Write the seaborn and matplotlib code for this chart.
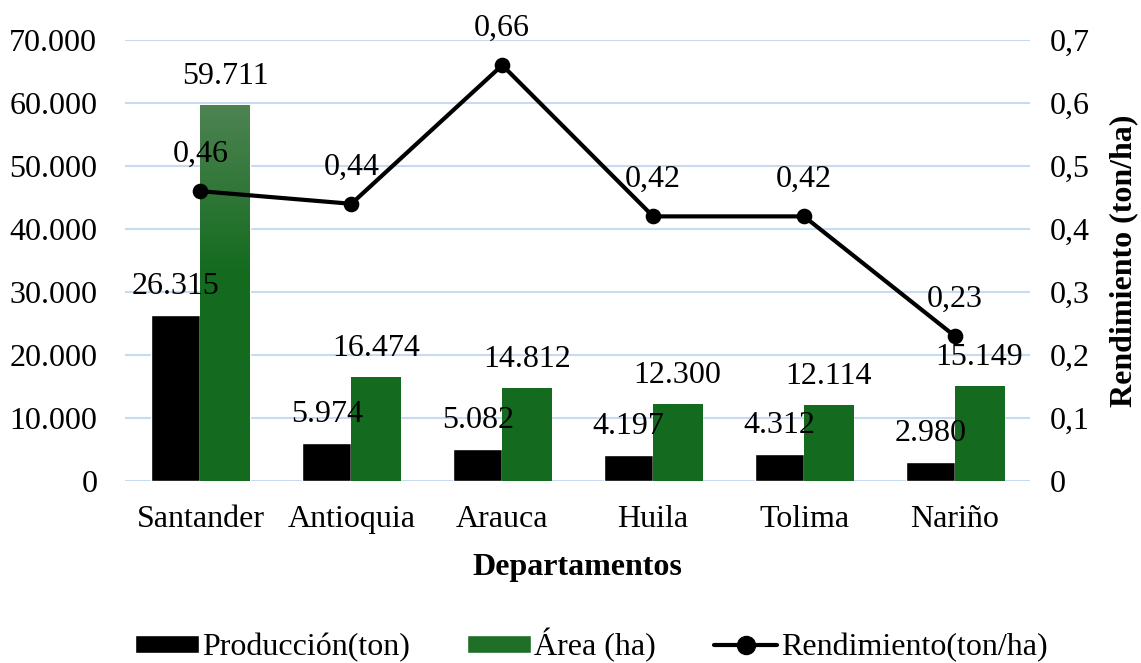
import matplotlib.pyplot as plt
import matplotlib.patches as mpatches
import matplotlib.lines as mlines
from matplotlib.colors import LinearSegmentedColormap
import seaborn as sns
import pandas as pd
import numpy as np

# Datos
departamentos = ['Santander', 'Antioquia', 'Arauca', 'Huila', 'Tolima', 'Nariño']
produccion = [26315, 5974, 5082, 4197, 4312, 2980]
area = [59711, 16474, 14812, 12300, 12114, 15149]
rendimiento = [0.46, 0.44, 0.66, 0.42, 0.42, 0.23]

serie_prod = 'Producción(ton)'
serie_area = 'Área (ha)'

df = pd.DataFrame({
    'Departamento': departamentos * 2,
    'valor': produccion + area,
    'serie': [serie_prod] * len(departamentos) + [serie_area] * len(departamentos),
})
df_rend = pd.DataFrame({'Departamento': departamentos, 'rend': rendimiento})

def miles(v):
    return f"{v:,.0f}".replace(',', '.')

def coma(v, dec=2):
    return f"{v:.{dec}f}".replace('.', ',')

sns.set_style('white')
plt.rcParams['font.family'] = ['Liberation Serif', 'DejaVu Serif']
plt.rcParams['text.color'] = 'black'
plt.rcParams['axes.labelcolor'] = 'black'
plt.rcParams['xtick.color'] = 'black'
plt.rcParams['ytick.color'] = 'black'
fs = 23

fig = plt.figure(figsize=(11.41, 6.63), dpi=100)
ax = fig.add_axes([0.1096, 0.2745, 0.7934, 0.6652])

sns.barplot(data=df, x='Departamento', y='valor', hue='serie', order=departamentos,
            hue_order=[serie_prod, serie_area], palette=['black', '#146b1f'],
            width=0.65, gap=0, saturation=1, ax=ax, legend=False, zorder=2)

ax.set_ylim(0, 70000)
ax.set_yticks(range(0, 70001, 10000))
ax.set_yticklabels([miles(v) for v in range(0, 70001, 10000)], fontsize=fs)
ax.set_xlim(-0.5, len(departamentos) - 0.5)
ax.tick_params(axis='x', labelsize=fs, length=0, pad=17)
ax.tick_params(axis='y', length=0, pad=20)
ax.grid(axis='y', color='#c8daf0', linewidth=1.5, zorder=0)
ax.set_axisbelow(True)
for s in ax.spines.values():
    s.set_visible(False)
ax.set_ylabel('')
ax.set_xlabel('Departamentos', fontsize=fs, fontweight='bold', labelpad=14)

# degradado de las barras verdes
cmap = LinearSegmentedColormap.from_list('verde', [(0, '#146b1f'), (0.55, '#146b1f'), (1, '#4f8453')])
grad = np.linspace(0, 1, 256).reshape(-1, 1)
barras_prod = ax.containers[0]
barras_area = ax.containers[1]
for b in barras_area:
    x0 = b.get_x()
    w = b.get_width()
    im = ax.imshow(grad, cmap=cmap, aspect='auto', origin='lower',
                   extent=[x0, x0 + w, 0, 70000 * 0.86], zorder=2)
    im.set_clip_path(b)
    b.set_facecolor('none')

for b, v in zip(barras_prod, produccion):
    ax.annotate(miles(v), (b.get_x() + b.get_width() / 2, b.get_height()),
                xytext=(0, 10), textcoords='offset points', ha='center', va='bottom', fontsize=fs)
for b, v in zip(barras_area, area):
    ax.annotate(miles(v), (b.get_x() + b.get_width() / 2, b.get_height()),
                xytext=(0, 10), textcoords='offset points', ha='center', va='bottom', fontsize=fs)

# eje secundario: rendimiento
ax2 = ax.twinx()
sns.pointplot(data=df_rend, x='Departamento', y='rend', order=departamentos, color='black',
              markers='o', markersize=9, linewidth=3, ax=ax2)
ax2.set_ylim(0, 0.7)
ax2.set_xlim(-0.5, len(departamentos) - 0.5)
ax2.set_yticks(np.arange(0, 0.71, 0.1))
ax2.set_yticklabels(['0'] + [coma(v, 1) for v in np.arange(0.1, 0.71, 0.1)], fontsize=fs)
ax2.tick_params(axis='y', length=0, pad=14)
for s in ax2.spines.values():
    s.set_visible(False)
ax2.set_ylabel('Rendimiento (ton/ha)', fontsize=fs, fontweight='bold', labelpad=14)
ax2.set_xlabel('')
for i, v in enumerate(rendimiento):
    ax2.annotate(coma(v), (i, v), xytext=(0, 16), textcoords='offset points',
                 ha='center', va='bottom', fontsize=fs)

# leyenda
h1 = mpatches.Patch(facecolor='black', label=serie_prod)
h2 = mpatches.Patch(facecolor='#1f6f28', label=serie_area)
h3 = mlines.Line2D([], [], color='black', marker='o', markersize=13, linewidth=3,
                   label='Rendimiento(ton/ha)')
fig.legend(handles=[h1, h2, h3], loc='center', bbox_to_anchor=(0.518, 0.027), ncol=3,
           frameon=False, fontsize=fs, handlelength=2.0, handleheight=0.5,
           handletextpad=0.1, columnspacing=1.8)

fig.savefig('out.png', dpi=100)
